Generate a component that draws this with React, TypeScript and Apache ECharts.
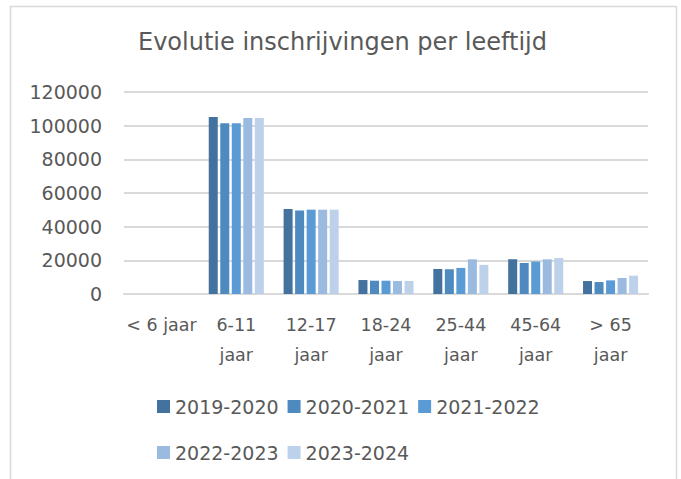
import React, { useEffect, useRef } from "react";
import * as echarts from "echarts";

const categories = ["< 6 jaar", "6-11\njaar", "12-17\njaar", "18-24\njaar", "25-44\njaar", "45-64\njaar", "> 65\njaar"];
const seriesNames = ["2019-2020", "2020-2021", "2021-2022", "2022-2023", "2023-2024"];
const s2019 = [null, 105100, 50500, 8300, 14850, 20600, 7700];
const s2020 = [null, 101500, 49600, 7900, 14700, 18400, 7100];
const s2021 = [null, 101500, 50100, 7900, 15500, 19300, 8100];
const s2022 = [null, 104500, 50100, 7700, 20600, 20600, 9500];
const s2023 = [null, 104500, 50100, 7700, 17300, 21400, 10900];
const colors = ["#43729E", "#4E89BF", "#5B9BD5", "#9BBAE0", "#BDD1EB"];

const FONT = "DejaVu Sans";
const GRAY = "#595959";

export default function App() {
  const ref = useRef<HTMLDivElement>(null);
  useEffect(() => {
    if (!ref.current) return;
    const chart = echarts.init(ref.current, undefined, { renderer: "svg" });
    const all = [s2019, s2020, s2021, s2022, s2023];
    chart.setOption({
      animation: false,
      backgroundColor: "#ffffff",
      textStyle: { fontFamily: FONT },
      title: {
        text: "Evolutie inschrijvingen per leeftijd",
        left: 133,
        top: 25,
        textStyle: { fontFamily: FONT, fontSize: 24, fontWeight: "normal", color: GRAY },
      },
      graphic: [
        {
          type: "rect",
          shape: { x: 10.5, y: 6.5, width: 666, height: 480 },
          style: { fill: "none", stroke: "#D9D9D9", lineWidth: 1.5 },
          silent: true,
        },
      ],
      legend: [
        {
          data: seriesNames.slice(0, 3),
          left: 152,
          top: 392,
          itemWidth: 13,
          itemHeight: 13,
          itemGap: 9,
          icon: "rect",
          textStyle: { fontFamily: FONT, fontSize: 19, color: GRAY },
        },
        {
          data: seriesNames.slice(3),
          left: 152,
          top: 438,
          itemWidth: 13,
          itemHeight: 13,
          itemGap: 9,
          icon: "rect",
          textStyle: { fontFamily: FONT, fontSize: 19, color: GRAY },
        },
      ],
      grid: { left: 124, right: 33, top: 92, bottom: 185, containLabel: false },
      xAxis: {
        type: "category",
        data: categories,
        axisLine: { show: true, lineStyle: { color: "#D9D9D9", width: 2 } },
        axisTick: { show: false },
        axisLabel: {
          interval: 0,
          margin: 16,
          fontFamily: FONT,
          fontSize: 17.5,
          color: GRAY,
          lineHeight: 30,
        },
      },
      yAxis: {
        type: "value",
        min: 0,
        max: 120000,
        interval: 20000,
        axisLine: { show: false },
        axisTick: { show: false },
        splitLine: { lineStyle: { color: "#D9D9D9", width: 2 } },
        axisLabel: {
          fontFamily: FONT,
          fontSize: 19,
          color: GRAY,
          margin: 22,
          formatter: (v: number) => String(v),
        },
      },
      series: seriesNames.map((name, i) => ({
        name,
        type: "bar",
        data: all[i],
        barWidth: 9,
        barGap: "28%",
        itemStyle: { color: colors[i] },
      })),
    });
    return () => chart.dispose();
  }, []);
  return <div ref={ref} style={{ width: 681, height: 479, position: "absolute", left: 0, top: 0 }} />;
}
